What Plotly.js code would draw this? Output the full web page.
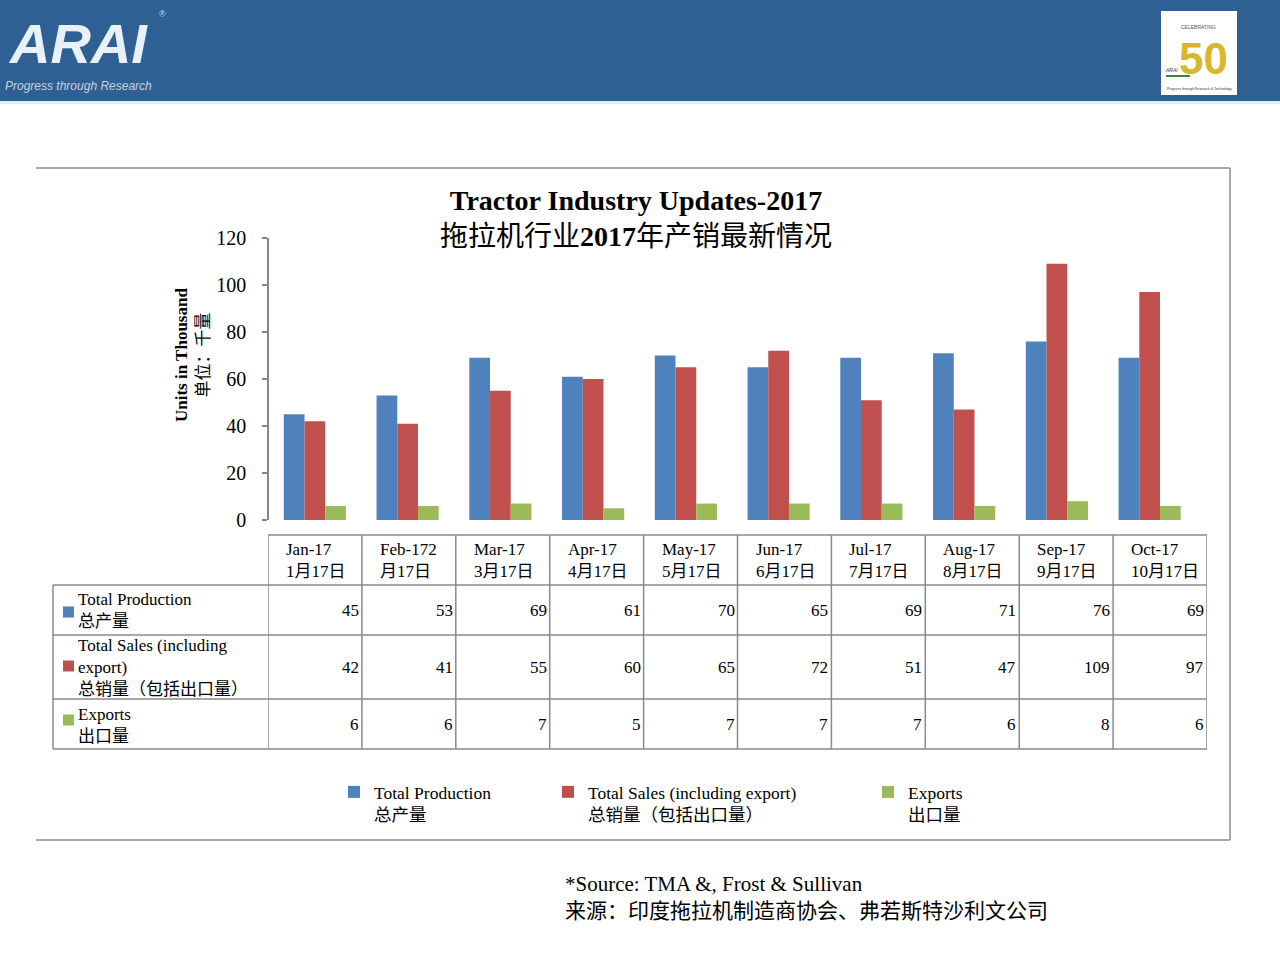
<!DOCTYPE html>
<html>
<head>
<meta charset="utf-8">
<script src="https://cdn.plot.ly/plotly-3.0.1.min.js"></script>
<style>html,body{margin:0;padding:0;background:#fff;}#chart{width:1280px;height:960px;}</style>
</head>
<body>
<div id="chart"></div>
<script>
// ---------- DATA ----------
const months = ['Jan-17','Feb-17','Mar-17','Apr-17','May-17','Jun-17','Jul-17','Aug-17','Sep-17','Oct-17'];
const headerLabels = ['Jan-17','Feb-172','Mar-17','Apr-17','May-17','Jun-17','Jul-17','Aug-17','Sep-17','Oct-17'];
const headerLabelsCn = ['1月17日','月17日','3月17日','4月17日','5月17日','6月17日','7月17日','8月17日','9月17日','10月17日'];
const totalProduction = [45, 53, 69, 61, 70, 65, 69, 71, 76, 69];
const totalSales = [42, 41, 55, 60, 65, 72, 51, 47, 109, 97];
const exportsUnits = [6, 6, 7, 5, 7, 7, 7, 6, 8, 6];
const seriesNames = ['Total Production', 'Total Sales (including export)', 'Exports'];
const seriesNamesCn = ['总产量', '总销量（包括出口量）', '出口量'];
const rowLabels = ['Total Production', 'Total Sales (including<br>export)', 'Exports'];
const yTicks = [0, 20, 40, 60, 80, 100, 120];

// ---------- STYLE ----------
const FONT = 'Liberation Serif, Noto Sans CJK SC, serif';
const colors = ['#4f81bd', '#c0504d', '#9bbb59'];
const GRID = '#8a8a8a';
const W = 1280, H = 960;
const px = v => v / W;
const py = v => 1 - v / H;

const series = [totalProduction, totalSales, exportsUnits];
const legendIds = ['legend', 'legend2', 'legend3'];

const traces = series.map((vals, i) => ({
  type: 'bar',
  x: months,
  y: vals,
  name: seriesNames[i] + '<br>' + seriesNamesCn[i],
  marker: {color: colors[i], line: {width: 0}},
  legend: legendIds[i],
  hoverinfo: 'skip'
}));

// ---------- SHAPES ----------
const shapes = [];
// header bar
shapes.push({type:'rect', xref:'paper', yref:'paper', x0:0, x1:1, y0:py(101), y1:1, fillcolor:'#2e6094', line:{width:0}, layer:'below'});
shapes.push({type:'rect', xref:'paper', yref:'paper', x0:0, x1:1, y0:py(104), y1:py(101), fillcolor:'#d6eef8', line:{width:0}, layer:'below'});
// right logo box
shapes.push({type:'rect', xref:'paper', yref:'paper', x0:px(1161), x1:px(1237), y0:py(95), y1:py(11), fillcolor:'#ffffff', line:{width:0}});
shapes.push({type:'line', xref:'paper', yref:'paper', x0:px(1166), x1:px(1190), y0:py(76), y1:py(76), line:{color:'#2e8b3a', width:2}});
// outer frame
shapes.push({type:'line', xref:'paper', yref:'paper', x0:px(36), x1:px(1230), y0:py(168), y1:py(168), line:{color:GRID, width:1.5}});
shapes.push({type:'line', xref:'paper', yref:'paper', x0:px(1230), x1:px(1230), y0:py(168), y1:py(840), line:{color:GRID, width:1.5}});
shapes.push({type:'line', xref:'paper', yref:'paper', x0:px(36), x1:px(1230), y0:py(840), y1:py(840), line:{color:GRID, width:1.5}});
// table horizontal lines
shapes.push({type:'line', xref:'x2', yref:'paper', x0:-0.5, x1:months.length - 0.5, y0:py(535), y1:py(535), line:{color:GRID, width:1.5}});
const rowEdges = [585, 635, 699, 749];
rowEdges.forEach(y => shapes.push({type:'line', xref:'paper', yref:'paper', x0:px(53), x1:px(1207), y0:py(y), y1:py(y), line:{color:GRID, width:1.5}}));
// table vertical lines
for (let i = 0; i <= months.length; i++) {
  shapes.push({type:'line', xref:'x2', yref:'paper', x0:i - 0.5, x1:i - 0.5, y0:py(535), y1:py(749), line:{color:GRID, width:1.5}});
}
shapes.push({type:'line', xref:'paper', yref:'paper', x0:px(53), x1:px(53), y0:py(585), y1:py(749), line:{color:GRID, width:1.5}});
// row keys
const rowCenters = [610, 667, 724];
const keyCenters = [612, 666, 720];
keyCenters.forEach((c, i) => shapes.push({type:'rect', xref:'paper', yref:'paper', x0:px(63), x1:px(74), y0:py(c + 5.5), y1:py(c - 5.5), fillcolor:colors[i], line:{width:0}}));

// ---------- ANNOTATIONS ----------
const ann = [];
const tf = (size, color) => ({family: FONT, size: size, color: color || '#000'});
// logo text
ann.push({xref:'paper', yref:'paper', x:px(6), y:py(43), xanchor:'left', yanchor:'middle', text:'<b><i>ARAI</i></b>', showarrow:false, font:{family:'Liberation Sans, Arial, sans-serif', size:56, color:'#e8f0fa'}});
ann.push({xref:'paper', yref:'paper', x:px(157), y:py(14), xanchor:'left', yanchor:'middle', text:'®', showarrow:false, font:{family:'Liberation Sans', size:9, color:'#c9d6e6'}});
ann.push({xref:'paper', yref:'paper', x:px(3), y:py(86), xanchor:'left', yanchor:'middle', text:'<i>Progress through Research</i>', showarrow:false, font:{family:'Liberation Sans, Arial, sans-serif', size:12, color:'#c6d2e2'}});
ann.push({xref:'paper', yref:'paper', x:px(1198), y:py(27), xanchor:'center', yanchor:'middle', text:'CELEBRATING', showarrow:false, font:{family:'Liberation Sans', size:5, color:'#555'}});
ann.push({xref:'paper', yref:'paper', x:px(1203), y:py(58), xanchor:'center', yanchor:'middle', text:'<b>50</b>', showarrow:false, font:{family:'Liberation Sans', size:44, color:'#d8b82a'}});
ann.push({xref:'paper', yref:'paper', x:px(1163), y:py(70), xanchor:'left', yanchor:'middle', text:'<i>ARAI</i>', showarrow:false, font:{family:'Liberation Sans', size:5, color:'#333'}});
ann.push({xref:'paper', yref:'paper', x:px(1199), y:py(89), xanchor:'center', yanchor:'middle', text:'Progress through Research &amp; Technology', showarrow:false, font:{family:'Liberation Sans', size:3.5, color:'#333'}});
// y axis title
ann.push({xref:'paper', yref:'paper', x:px(192), y:py(355), xanchor:'center', yanchor:'middle', textangle:-90, showarrow:false, text:'<b>Units in Thousand</b><br>单位：千量', font:tf(17)});
// table header
headerLabels.forEach((lab, i) => ann.push({xref:'x2', yref:'paper', x:i - 0.5, xshift:16, y:py(560), xanchor:'left', yanchor:'middle', align:'left', showarrow:false, text:lab + '<br>' + headerLabelsCn[i], font:tf(17)}));
// table values
series.forEach((vals, r) => vals.forEach((v, i) => ann.push({xref:'x2', yref:'paper', x:i + 0.5, xshift:-1, y:py(rowCenters[r]), xanchor:'right', yanchor:'middle', showarrow:false, text:String(v), font:tf(17)})));
// row labels
rowLabels.forEach((lab, r) => ann.push({xref:'paper', yref:'paper', x:px(76), y:py([610, 667, 725][r]), xanchor:'left', yanchor:'middle', align:'left', showarrow:false, text:lab + '<br>' + seriesNamesCn[r], font:tf(17)}));
// source
ann.push({xref:'paper', yref:'paper', x:px(563), y:py(897), xanchor:'left', yanchor:'middle', align:'left', showarrow:false, text:'*Source: TMA &amp;, Frost &amp; Sullivan<br>来源：印度拖拉机制造商协会、弗若斯特沙利文公司', font:tf(21)});

// ---------- LAYOUT ----------
const legendBase = (x) => ({
  x: x, y: py(774), xanchor:'left', yanchor:'top', valign:'top', orientation:'v',
  bgcolor:'rgba(0,0,0,0)', borderwidth:0, font: tf(17.5), itemclick:false, itemdoubleclick:false
});

const layout = {
  width: W, height: H,
  margin: {l:0, r:0, t:0, b:0},
  paper_bgcolor:'#ffffff', plot_bgcolor:'rgba(0,0,0,0)',
  barmode:'group', bargap:0.33, bargroupgap:0,
  title: {text:'<b>Tractor Industry Updates-2017</b><br>拖拉机行业<b>2017</b>年产销最新情况', x:px(636), xanchor:'center', xref:'paper', y:py(210), yref:'paper', yanchor:'middle', font:tf(28)},
  xaxis: {domain:[px(268.5), px(1196)], type:'category', visible:false, fixedrange:true},
  xaxis2: {domain:[px(268), px(1207)], range:[-0.5, months.length - 0.5], anchor:'y', visible:false, fixedrange:true},
  yaxis: {domain:[py(520), py(238)], range:[0, 120], tickmode:'array', tickvals:yTicks, ticktext:yTicks.map(String),
          ticks:'outside', ticklen:5, tickcolor:'#868686', tickwidth:1.3, showline:true, linecolor:'#868686', linewidth:1.3,
          showgrid:false, zeroline:false, tickfont:tf(20), ticklabelstandoff:12, fixedrange:true},
  showlegend:true,
  legend: legendBase(px(334)),
  legend2: legendBase(px(548)),
  legend3: legendBase(px(868)),
  shapes: shapes,
  annotations: ann
};

Plotly.newPlot('chart', traces, layout, {displayModeBar:false, staticPlot:true});
</script>
</body>
</html>
